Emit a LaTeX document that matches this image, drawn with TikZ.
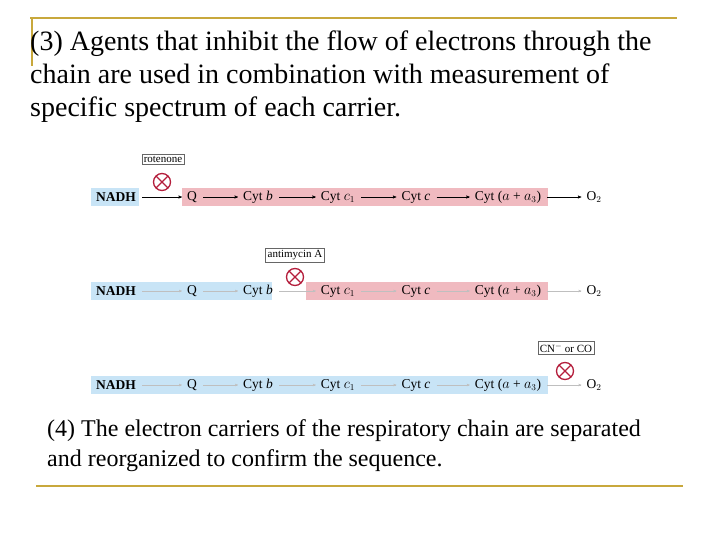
\documentclass[tikz,border=0pt]{standalone}
\usepackage{fontspec}
\setmainfont{Liberation Serif}
\usetikzlibrary{arrows}
\definecolor{gold}{RGB}{200,168,60}
\definecolor{bluebg}{RGB}{200,228,246}
\definecolor{pinkbg}{RGB}{240,186,192}
\definecolor{crossred}{RGB}{180,30,60}
\tikzset{
  item/.style={inner sep=0pt,font=\fontsize{13.5}{14}\selectfont},
  lbl/.style={draw=black!60,inner sep=2pt,font=\fontsize{11}{12}\selectfont},
  flow/.style={->,>=stealth',thin},
  faint/.style={->,>=stealth',very thin,black!25}
}
\newcommand{\inhib}[1]{% cross mark
  \draw[crossred,line width=1.3pt] (#1) circle (8.5);
  \draw[crossred,line width=1.3pt] ($(#1)+(-6,-6)$) -- ($(#1)+(6,6)$);
  \draw[crossred,line width=1.3pt] ($(#1)+(-6,6)$) -- ($(#1)+(6,-6)$);}
\usetikzlibrary{calc}
\begin{document}
\begin{tikzpicture}[x=1pt,y=-1pt]
	\useasboundingbox (0,0) rectangle (720,540);
	% frame
	\draw[gold,line width=2.2pt] (30,18) -- (677,18);
	\draw[gold,line width=2.2pt] (32,18) -- (32,66);
	\draw[gold,line width=2.2pt] (36,486) -- (683,486);
	
	% title text
	\node[anchor=north west,align=left,inner sep=0pt,font=\fontsize{28}{33}\selectfont]
	at (30,31) (title) {(3) Agents that inhibit the flow of electrons through the\\
		chain are used in combination with measurement of\\
		specific spectrum of each carrier.};
	\node[anchor=north west,align=left,inner sep=0pt,font=\fontsize{24}{30}\selectfont]
	at (47,419) (note) {(4) The electron carriers of the respiratory chain are separated\\
		and reorganized to confirm the sequence.};
	
	% row backgrounds
	\fill[bluebg] (91,188) rectangle (139,206);
	\fill[pinkbg] (182,188) rectangle (548,206);
	\fill[bluebg] (91,282) rectangle (272,300);
	\fill[pinkbg] (306,282) rectangle (548,300);
	\fill[bluebg] (91,376) rectangle (548,394);
	
	% carriers
	\foreach \r/\y in {a/197,b/291,c/385}{
		\node[item] (nadh\r) at (116,\y) {\textbf{NADH}};
		\node[item] (q\r) at (192,\y) {Q};
		\node[item] (cb\r) at (258,\y) {Cyt \textit{b}};
		\node[item] (cc1\r) at (338,\y) {Cyt $c_1$};
		\node[item] (cc\r) at (416,\y) {Cyt \textit{c}};
		\node[item] (caa\r) at (508,\y) {Cyt ($a$ + $a_3$)};
		\node[item] (o\r) at (594,\y) {O$_2$};
	}
	\foreach \p/\n in {nadh/q,q/cb,cb/cc1,cc1/cc,cc/caa,caa/o}{
		\draw[flow] ([xshift=6]\p a.east) -- ([xshift=-5]\n a.west);
		\draw[faint] ([xshift=6]\p b.east) -- ([xshift=-5]\n b.west);
		\draw[faint] ([xshift=6]\p c.east) -- ([xshift=-5]\n c.west);
	}
	
	% inhibitors
	\node[lbl] (rot) at (163,159.5) {rotenone};
	\node[lbl] (anti) at (295,255) {antimycin A};
	\node[lbl] (cn) at (566,348) {CN$^-$ or CO};
	\coordinate (xa) at (162,182);
	\coordinate (xb) at (295,277);
	\coordinate (xc) at (565,371);
	\inhib{xa}
	\inhib{xb}
	\inhib{xc}
\end{tikzpicture}
\end{document}
